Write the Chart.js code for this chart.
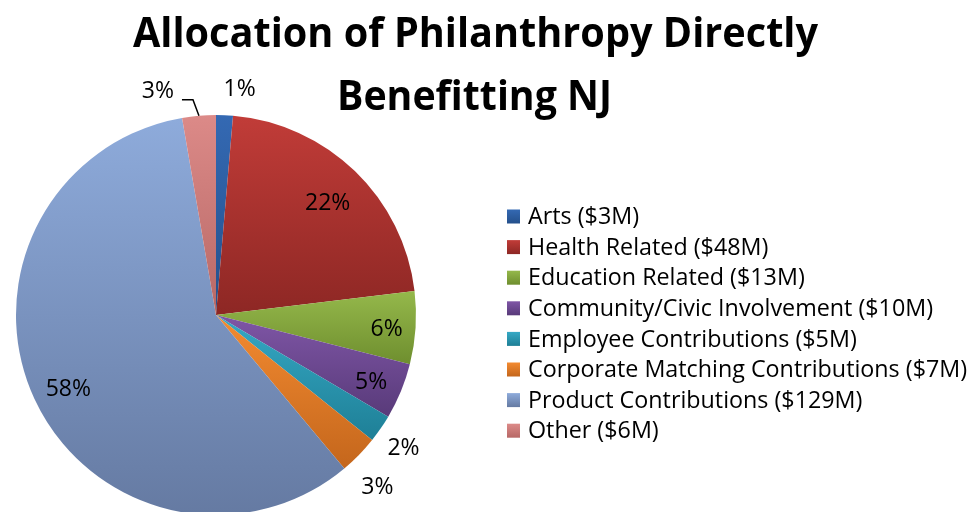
<!DOCTYPE html>
<html>
<head>
<meta charset="utf-8">
<script src="https://cdn.jsdelivr.net/npm/chart.js@4.4.0/dist/chart.umd.min.js"></script>
<style>
  html, body { margin: 0; padding: 0; background: #fff; overflow: hidden; }
  #wrap { position: relative; width: 971px; height: 515px; }
</style>
</head>
<body>
<div id="wrap"><canvas id="pieChart"></canvas></div>
<script>
const titleLines = ["Allocation of Philanthropy Directly", "Benefitting NJ"];
const categories = [
    "Arts",
    "Health Related",
    "Education Related",
    "Community/Civic Involvement",
    "Employee Contributions",
    "Corporate Matching Contributions",
    "Product Contributions",
    "Other"
];
const amounts = [3, 48, 13, 10, 5, 7, 129, 6]; // $M

// slice colours (gradient top -> bottom, like the old Excel look)
const topColors = ["#3469b3", "#c13c38", "#95b84b", "#7f56a6", "#36a9c5", "#f38b31", "#8eabdb", "#dc8a88"];
const bottomColors = ["#24508b", "#8d2724", "#6e8e2e", "#583a79", "#1e7f96", "#c4661c", "#657aa2", "#b76866"];

// where each % label sits: radius factor, nudge x, nudge y
const labelPlace = [
    { f: 1.13, dx: 14, dy: 0 },
    { f: 0.79, dx: 2, dy: 2 },
    { f: 0.85, dx: 1, dy: 4 },
    { f: 0.85, dx: -2, dy: 3 },
    { f: 1.145, dx: -1, dy: 3 },
    { f: 1.15, dx: -3, dy: 12 },
    { f: 0.83, dx: 3, dy: 5 },
    { leader: true }
];

const total = amounts.reduce((a, b) => a + b, 0);
const percents = amounts.map(v => Math.round(v / total * 100) + "%");
const legendLabels = categories.map((c, i) => c + " ($" + amounts[i] + "M)");

const labelFont = '23px "Open Sans", "Liberation Sans", sans-serif';
const legendFont = '23.3px "Open Sans", "Liberation Sans", sans-serif';
const titleFont = 'bold 41px "Open Sans", "Liberation Sans", sans-serif';

// vertical gradient spanning the slice's own bounding box
function sliceFill(context) {
    const chart = context.chart;
    const area = chart.chartArea;
    const i = context.dataIndex;
    if (!area) {
        return topColors[i];
    }
    const cx = (area.left + area.right) / 2;
    const cy = (area.top + area.bottom) / 2;
    const r = Math.min(area.width, area.height) / 2;
    let before = 0;
    for (let k = 0; k < i; k++) {
        before += amounts[k];
    }
    const a0 = -Math.PI / 2 + before / total * Math.PI * 2;
    const a1 = a0 + amounts[i] / total * Math.PI * 2;
    let ys = [cy, cy + r * Math.sin(a0), cy + r * Math.sin(a1)];
    [-Math.PI / 2, Math.PI / 2, Math.PI * 1.5].forEach(a => {
        if (a >= a0 && a <= a1) {
            ys.push(cy + r * Math.sin(a));
        }
    });
    const y0 = Math.min(...ys);
    const y1 = Math.max(...ys);
    const g = chart.ctx.createLinearGradient(0, y0, 0, y1 + 1);
    g.addColorStop(0, topColors[i]);
    g.addColorStop(1, bottomColors[i]);
    return g;
}

const decorations = {
    id: "decorations",
    afterDatasetsDraw(chart) {
        const ctx = chart.ctx;
        const meta = chart.getDatasetMeta(0);
        ctx.save();
        ctx.fillStyle = "#000";
        ctx.strokeStyle = "#000";
        ctx.lineWidth = 1.5;
        ctx.font = labelFont;
        ctx.textBaseline = "middle";
        meta.data.forEach((arc, i) => {
            const p = arc.getProps(["x", "y", "startAngle", "endAngle", "outerRadius"], true);
            const mid = (p.startAngle + p.endAngle) / 2;
            const place = labelPlace[i];
            if (place.leader) {
                const ax = p.x + Math.cos(mid) * p.outerRadius;
                const ay = p.y + Math.sin(mid) * p.outerRadius;
                const ex = ax - 6;
                const ey = ay - 16;
                ctx.beginPath();
                ctx.moveTo(ax, ay);
                ctx.lineTo(ex, ey);
                ctx.lineTo(ex - 11, ey);
                ctx.stroke();
                ctx.textAlign = "right";
                ctx.fillText(percents[i], ex - 19, ey - 8);
            } else {
                const lx = p.x + Math.cos(mid) * p.outerRadius * place.f + place.dx;
                const ly = p.y + Math.sin(mid) * p.outerRadius * place.f + place.dy;
                ctx.textAlign = "center";
                ctx.fillText(percents[i], lx, ly);
            }
        });
        ctx.restore();
    },
    afterDraw(chart) {
        const ctx = chart.ctx;
        ctx.save();

        // title, squeezed to the width of the original
        ctx.fillStyle = "#000";
        ctx.font = titleFont;
        ctx.textAlign = "center";
        ctx.textBaseline = "alphabetic";
        const titleBox = [
            { cx: 475.5, base: 47, w: 685 },
            { cx: 474.5, base: 110, w: 275 }
        ];
        titleLines.forEach((line, i) => {
            const b = titleBox[i];
            const s = b.w / ctx.measureText(line).width;
            ctx.save();
            ctx.translate(b.cx, b.base);
            ctx.scale(s, 1);
            ctx.fillText(line, 0, 0);
            ctx.restore();
        });

        // legend
        ctx.font = legendFont;
        ctx.textAlign = "left";
        ctx.textBaseline = "middle";
        legendLabels.forEach((text, i) => {
            const y = 216.5 + i * 30.6;
            const g = ctx.createLinearGradient(0, y - 7, 0, y + 7);
            g.addColorStop(0, topColors[i]);
            g.addColorStop(1, bottomColors[i]);
            ctx.fillStyle = g;
            ctx.fillRect(507, y - 7, 13, 14);
            ctx.fillStyle = "#000";
            ctx.fillText(text, 528, y + 1);
        });
        ctx.restore();
    }
};

new Chart(document.getElementById("pieChart"), {
    type: "pie",
    data: {
        labels: categories,
        datasets: [
            {
                data: amounts,
                backgroundColor: sliceFill,
                borderWidth: 0
            }
        ]
    },
    options: {
        responsive: true,
        maintainAspectRatio: false,
        animation: false,
        layout: {
            padding: { top: 115, left: 16, right: 555, bottom: 0 }
        },
        plugins: {
            legend: { display: false },
            title: { display: false },
            tooltip: { enabled: false }
        }
    },
    plugins: [decorations]
});
</script>
</body>
</html>
